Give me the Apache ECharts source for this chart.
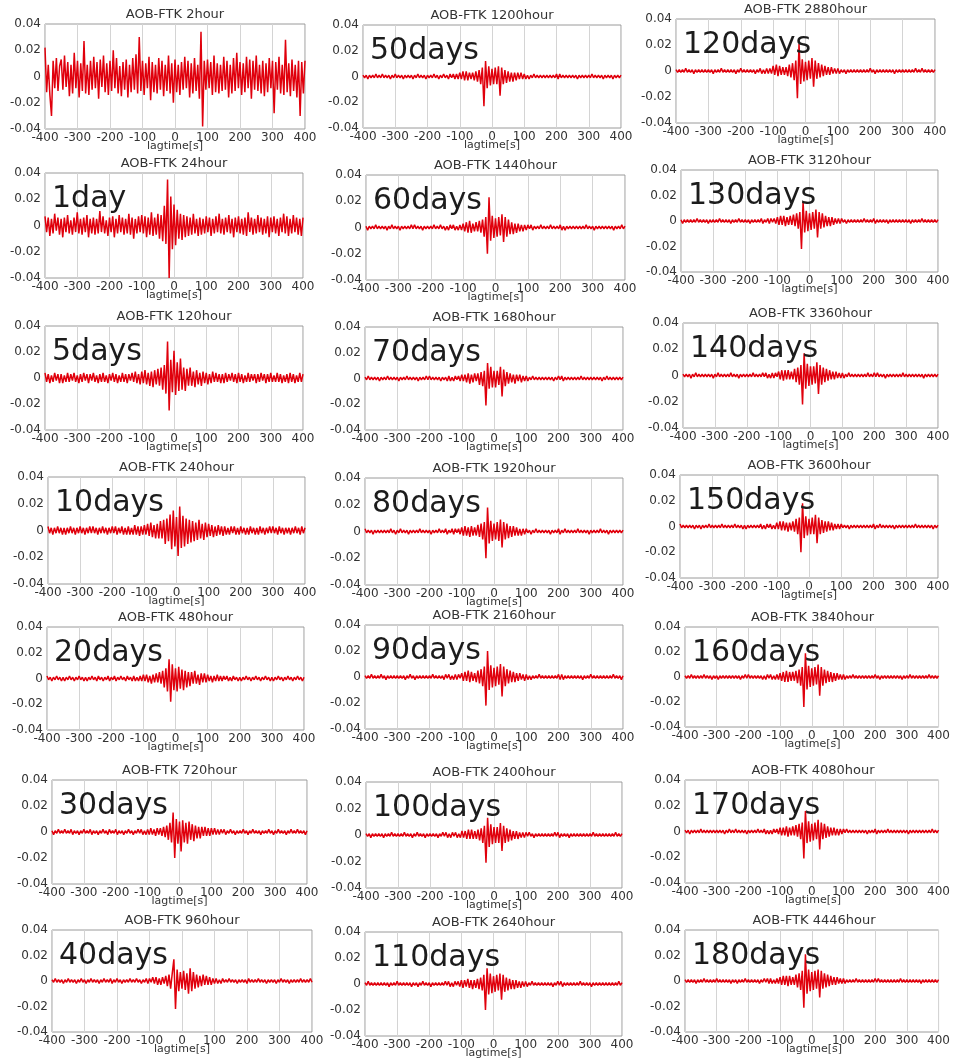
<!DOCTYPE html>
<html>
<head>
<meta charset="utf-8">
<title>AOB-FTK cross-correlation stacks</title>
<script src="https://cdn.jsdelivr.net/npm/echarts@6/dist/echarts.min.js"></script>
<style>
  html, body { margin: 0; padding: 0; background: #ffffff; }
  #chart { width: 953px; height: 1058px; }
</style>
</head>
<body>
<div id="chart"></div>
<script>
// Cross-correlation function AOB-FTK, stacked over increasing time windows.
// Traces are sampled every 5 s from -400 s to +400 s (161 samples);
// amplitudes are stored in thousandths.
const LAG_START = -400;
const LAG_STEP = 5;
const AMP_UNIT = 0.001;

const X_MIN = -400, X_MAX = 400, X_INTERVAL = 100;
const Y_MIN = -0.04, Y_MAX = 0.04, Y_INTERVAL = 0.02;

const STATION_PAIR = 'AOB-FTK';
const STACK_HOURS = [2, 24, 120, 240, 480, 720, 960,
                     1200, 1440, 1680, 1920, 2160, 2400, 2640,
                     2880, 3120, 3360, 3600, 3840, 4080, 4446];
const DAY_LABELS = ['', '1day', '5days', '10days', '20days', '30days', '40days',
                    '50days', '60days', '70days', '80days', '90days', '100days', '110days',
                    '120days', '130days', '140days', '150days', '160days', '170days', '180days'];

const amp_2h = [
  22,-12,9,-14,-30,12,-9,14,-11,8,
  13,-10,16,-8,11,-15,9,-13,18,-9,
  12,-16,10,-11,27,-13,9,-14,12,-10,
  15,-9,11,-17,13,-8,16,-12,10,-14,
  12,-11,20,-9,14,-13,8,-15,11,-10,
  13,-16,9,-12,14,-10,17,-13,30,-11,
  12,-14,10,-9,15,-18,11,-12,9,-13,
  14,-10,12,-15,9,-11,16,-13,10,-20,
  13,-12,9,-14,11,-10,15,-9,12,-16,
  10,-13,14,-11,9,-17,34,-38,12,-10,
  13,-9,11,-14,16,-12,10,-13,9,-11,
  15,-10,12,-16,9,-13,14,-11,18,-9,
  11,-14,10,-12,15,-9,13,-17,12,-10,
  16,-11,9,-13,12,-15,10,-12,14,-9,
  12,-28,11,-10,15,-13,9,-14,28,-12,
  10,-15,13,-11,9,-16,12,-30,11,-13,
  12];
const amp_24h = [
  7,-5,6,-8,5,-6,9,-4,6,-7,
  5,-9,6,-5,8,-6,4,-7,6,-5,
  10,-6,5,-7,6,-5,8,-9,5,-6,
  6,-7,5,-6,11,-5,7,-6,4,-8,
  6,-5,7,-9,5,-6,8,-5,6,-7,
  5,-6,9,-7,6,-10,5,-6,7,-5,
  8,-6,7,-9,6,-7,10,-8,6,-7,
  9,-10,8,-12,15,-14,35,-40,22,-18,
  16,-15,12,-10,9,-11,8,-9,7,-8,
  6,-7,9,-6,5,-8,6,-7,5,-6,
  7,-5,6,-8,5,-6,7,-5,9,-6,
  5,-7,6,-5,8,-6,5,-9,6,-5,
  7,-6,5,-7,6,-8,10,-5,6,-7,
  5,-6,8,-5,6,-7,5,-6,7,-9,
  6,-5,7,-6,5,-8,6,-5,9,-6,
  7,-8,5,-6,8,-5,6,-7,5,-8,
  6];
const amp_120h = [
  4,-3,3,-4,2,-3,4,-2,3,-4,
  3,-4,2,-3,4,-3,3,-2,4,-3,
  2,-4,3,-3,4,-2,3,-4,3,-2,
  4,-3,2,-4,3,-3,4,-3,2,-4,
  3,-2,4,-3,3,-4,2,-3,4,-3,
  3,-4,3,-2,4,-3,5,-4,3,-5,
  5,-4,6,-5,4,-6,5,-7,6,-5,
  7,-6,8,-9,10,-12,28,-25,14,-11,
  21,-13,12,-10,15,-9,8,-10,7,-6,
  8,-6,5,-7,6,-5,4,-6,5,-4,
  4,-5,3,-4,5,-3,4,-3,3,-4,
  3,-4,4,-3,3,-2,4,-3,3,-4,
  4,-3,3,-4,2,-3,4,-3,3,-2,
  3,-4,3,-3,4,-2,3,-4,3,-3,
  4,-3,2,-3,4,-3,3,-4,2,-3,
  3,-4,4,-3,3,-4,2,-3,4,-3,
  3];
const amp_240h = [
  3,-2,2,-3,2,-2,3,-2,2,-3,
  2,-3,2,-2,3,-2,2,-3,2,-2,
  3,-2,2,-3,2,-2,3,-2,3,-2,
  2,-3,2,-2,3,-2,2,-3,2,-2,
  3,-2,3,-3,2,-2,3,-3,2,-3,
  3,-3,2,-3,4,-3,3,-4,3,-3,
  4,-3,5,-4,6,-5,4,-6,5,-6,
  7,-6,8,-10,9,-8,12,-14,15,-12,
  10,-19,18,-13,11,-12,9,-10,8,-9,
  7,-8,6,-7,8,-6,5,-7,6,-5,
  5,-4,4,-5,3,-4,4,-3,3,-4,
  3,-3,2,-3,3,-2,3,-3,2,-3,
  3,-2,2,-3,2,-3,3,-2,2,-3,
  2,-3,3,-2,2,-3,2,-2,3,-2,
  3,-2,2,-3,3,-2,2,-3,2,-2,
  2,-3,2,-2,3,-2,2,-3,3,-2,
  2];
const amp_480h = [
  2,-1,1,-2,1,-1,2,-1,1,-2,
  1,-2,1,-1,2,-1,1,-2,1,-1,
  2,-1,1,-2,1,-2,1,-1,2,-1,
  1,-2,2,-1,1,-2,1,-1,2,-2,
  1,-1,2,-2,1,-1,2,-1,1,-2,
  2,-1,1,-2,2,-2,1,-2,2,-2,
  3,-2,3,-3,2,-4,3,-3,4,-3,
  5,-4,6,-7,8,-10,15,-18,11,-9,
  8,-10,9,-8,7,-9,6,-7,5,-6,
  5,-4,6,-4,3,-5,4,-3,4,-3,
  3,-2,2,-3,2,-2,3,-2,2,-2,
  2,-1,2,-2,1,-2,2,-1,1,-2,
  1,-2,1,-1,2,-1,1,-2,1,-1,
  2,-1,1,-2,1,-1,2,-1,1,-2,
  1,-2,1,-1,2,-1,1,-2,1,-1,
  2,-1,1,-2,1,-1,2,-1,1,-2,
  1];
const amp_720h = [
  1,-2,1,-1,2,-1,1,-1,2,-1,
  1,-1,2,-2,1,-1,1,-2,1,-1,
  2,-1,1,-1,2,-2,1,-1,1,-2,
  1,-1,2,-1,1,-2,2,-1,1,-1,
  2,-2,1,-1,1,-2,1,-1,2,-1,
  1,-2,1,-1,2,-1,2,-2,1,-2,
  2,-2,3,-2,2,-3,3,-2,3,-3,
  4,-4,5,-6,7,-8,15,-20,10,-9,
  8,-15,9,-8,7,-9,8,-6,6,-7,
  5,-5,4,-5,4,-3,4,-3,3,-3,
  3,-2,3,-2,2,-2,2,-1,2,-2,
  1,-1,2,-1,1,-2,1,-1,1,-1,
  2,-1,1,-2,1,-1,2,-1,1,-1,
  1,-2,1,-1,1,-1,2,-1,1,-2,
  1,-1,2,-1,1,-1,1,-2,1,-1,
  2,-1,1,-1,2,-1,1,-1,1,-2,
  1];
const amp_960h = [
  1,-1,2,-1,1,-1,1,-2,1,-1,
  2,-1,1,-1,1,-2,1,-1,2,-1,
  1,-2,1,-1,2,-1,1,-1,1,-2,
  1,-1,2,-1,1,-1,2,-2,1,-1,
  2,-1,1,-2,1,-1,1,-1,2,-1,
  1,-1,2,-1,1,-2,1,-1,2,-2,
  2,-1,3,-2,3,-3,2,-3,3,-2,
  4,-4,5,-6,6,17,-22,9,-8,7,
  -6,8,-7,6,-10,10,-8,7,-6,5,
  -5,4,-4,5,-3,4,-3,3,-3,2,
  -2,2,-2,1,-2,2,-1,1,-1,2,
  -1,1,-1,1,-2,1,-1,1,-1,1,
  -2,2,-1,1,-1,1,-1,2,-1,1,
  -1,1,-2,1,-1,1,-1,1,-2,1,
  -1,2,-1,1,-1,1,-2,1,-1,1,
  -1,1,-1,2,-1,1,-1,1,-1,2,
  -1];
const amp_1200h = [
  1,-1,1,-2,1,-1,1,-1,2,-1,
  1,-1,2,-1,1,-1,1,-2,1,-1,
  2,-1,1,-1,1,-2,1,-1,1,-1,
  1,-2,1,-1,2,-1,1,-1,1,-2,
  1,-1,1,-1,2,-1,1,-2,1,-1,
  2,-1,1,-2,2,-1,2,-2,2,-2,
  3,-2,4,-3,4,-3,3,-2,3,-3,
  4,-4,5,-6,7,-23,12,-9,8,-7,
  6,-6,7,-6,8,-15,7,-6,5,-5,
  4,-4,3,-4,3,-3,3,-2,3,-2,
  2,-2,1,-2,1,-1,2,-1,1,-1,
  1,-1,1,-1,1,-1,1,-1,1,-1,
  2,-2,2,-1,1,-1,1,-1,1,-1,
  1,-1,1,-2,1,-1,1,-1,1,-1,
  1,-1,2,-1,1,-1,1,-1,1,-2,
  1,-1,1,-1,1,-2,1,-1,1,-1,
  1];
const amp_1440h = [
  1,-2,1,-1,1,-1,2,-1,1,-1,
  1,-1,1,-2,1,-1,2,-1,1,-1,
  1,-2,1,-1,1,-1,1,-1,2,-1,
  2,-1,1,-1,1,-2,1,-1,1,-1,
  1,-1,2,-1,1,-1,2,-1,1,-2,
  1,-2,2,-1,2,-2,1,-2,2,-2,
  3,-3,4,-4,5,-4,3,-3,4,-3,
  5,-4,6,-7,8,-20,23,-10,9,-8,
  7,-7,8,-6,10,-11,8,-7,6,-5,
  4,-5,3,-4,3,-3,2,-3,2,-2,
  2,-1,2,-2,1,-1,1,-1,2,-1,
  1,-1,1,-1,2,-1,1,-1,1,-1,
  2,-2,1,-2,1,-1,1,-1,1,-1,
  1,-1,1,-1,1,-1,2,-1,1,-1,
  1,-2,1,-1,1,-1,1,-1,1,-1,
  1,-1,1,-2,1,-1,1,-1,2,-1,
  1];
const amp_1680h = [
  1,-1,2,-1,1,-1,1,-1,1,-2,
  1,-1,1,-1,2,-1,1,-1,1,-1,
  1,-2,1,-1,1,-1,2,-1,1,-1,
  1,-1,1,-2,1,-1,1,-1,2,-1,
  2,-1,1,-1,1,-1,1,-2,1,-1,
  1,-2,2,-2,1,-2,2,-1,2,-2,
  3,-2,3,-3,4,-4,3,-3,4,-2,
  4,-5,5,-6,6,-21,12,-8,9,-7,
  6,-7,6,-5,9,-14,7,-6,5,-4,
  4,-3,3,-4,3,-2,3,-3,2,-2,
  2,-2,1,-1,2,-1,1,-1,1,-1,
  1,-1,1,-1,1,-1,1,-2,1,-1,
  2,-1,2,-2,1,-1,1,-1,1,-1,
  1,-1,1,-1,2,-1,1,-1,1,-1,
  1,-1,1,-1,1,-1,1,-2,1,-1,
  2,-1,1,-1,1,-1,1,-1,1,-1,
  1];
const amp_1920h = [
  2,-1,1,-1,1,-2,1,-1,1,-1,
  1,-1,1,-1,1,-1,2,-1,1,-2,
  1,-1,2,-1,1,-1,1,-2,1,-1,
  1,-1,1,-1,2,-1,1,-1,1,-1,
  1,-2,1,-1,1,-1,2,-1,1,-1,
  2,-2,1,-1,2,-2,2,-1,2,-2,
  3,-3,4,-3,3,-4,4,-3,3,-3,
  5,-4,6,-6,7,-20,18,-9,8,-7,
  6,-6,7,-7,9,-12,7,-6,6,-5,
  4,-4,4,-3,3,-3,2,-3,2,-2,
  2,-1,1,-2,1,-1,2,-1,1,-1,
  1,-1,1,-1,1,-2,1,-1,1,-1,
  2,-2,1,-1,2,-1,1,-1,1,-1,
  1,-1,2,-1,1,-1,1,-1,1,-2,
  1,-1,1,-1,1,-1,2,-1,1,-1,
  1,-2,1,-1,1,-1,1,-1,1,-1,
  1];
const amp_2160h = [
  1,-1,1,-1,2,-1,1,-1,1,-1,
  2,-1,1,-2,1,-1,1,-1,1,-1,
  1,-1,1,-1,1,-2,1,-1,2,-1,
  1,-2,1,-1,1,-1,1,-1,1,-1,
  1,-1,2,-1,1,-1,1,-1,1,-2,
  2,-1,2,-2,1,-2,2,-2,2,-1,
  3,-3,4,-3,5,-4,4,-3,3,-4,
  5,-5,6,-7,8,-22,20,-10,9,-8,
  7,-7,8,-6,10,-15,8,-7,6,-5,
  5,-4,4,-4,3,-3,3,-2,2,-3,
  2,-2,1,-2,1,-1,1,-1,2,-1,
  1,-1,1,-1,1,-1,1,-1,1,-1,
  2,-2,2,-2,1,-1,1,-1,1,-1,
  1,-1,1,-1,1,-2,1,-1,1,-1,
  2,-1,1,-1,1,-1,1,-1,1,-1,
  1,-1,1,-1,2,-1,1,-1,1,-2,
  1];
const amp_2400h = [
  1,-1,1,-2,1,-1,1,-1,1,-1,
  1,-2,1,-1,1,-1,2,-1,1,-1,
  1,-1,1,-1,2,-1,1,-1,1,-2,
  1,-1,2,-1,1,-1,1,-2,1,-1,
  1,-1,1,-1,1,-2,1,-1,2,-1,
  2,-2,1,-2,2,-1,2,-2,1,-2,
  3,-2,3,-3,4,-3,4,-3,3,-3,
  4,-4,5,-6,7,-21,13,-9,8,-7,
  6,-6,6,-6,9,-12,7,-6,5,-5,
  4,-4,3,-3,3,-3,2,-2,2,-2,
  2,-1,2,-1,1,-2,1,-1,1,-1,
  1,-1,1,-1,1,-1,1,-1,2,-1,
  2,-2,1,-1,1,-1,1,-2,1,-1,
  1,-1,1,-1,1,-1,1,-1,1,-1,
  1,-1,2,-1,1,-1,1,-1,1,-1,
  1,-1,1,-1,1,-1,2,-1,1,-1,
  1];
const amp_2640h = [
  1,-1,2,-1,1,-1,1,-1,1,-1,
  1,-1,1,-1,1,-2,1,-1,1,-1,
  2,-1,1,-1,1,-1,1,-1,1,-2,
  1,-1,1,-2,1,-1,2,-1,1,-1,
  1,-2,1,-1,1,-1,1,-1,1,-1,
  2,-1,2,-2,1,-2,2,-1,2,-2,
  3,-3,3,-2,4,-3,3,-4,3,-3,
  4,-4,5,-5,7,-20,12,-8,8,-7,
  6,-6,7,-5,8,-12,7,-6,5,-5,
  4,-4,3,-4,3,-3,2,-3,2,-2,
  2,-2,1,-1,2,-1,1,-1,1,-1,
  1,-1,1,-1,1,-1,1,-2,1,-1,
  2,-1,2,-2,1,-1,1,-1,1,-1,
  1,-1,1,-1,2,-1,1,-1,1,-1,
  1,-2,1,-1,1,-1,1,-1,1,-1,
  1,-1,1,-1,1,-1,1,-1,2,-1,
  1];
const amp_2880h = [
  1,-1,1,-1,1,-1,2,-1,1,-1,
  1,-2,1,-1,1,-1,1,-1,1,-1,
  1,-1,1,-2,1,-1,1,-1,2,-1,
  1,-1,1,-1,1,-1,1,-2,1,-1,
  2,-1,1,-1,1,-1,1,-1,1,-2,
  1,-1,2,-2,1,-2,2,-2,2,-2,
  4,-3,5,-4,4,-3,3,-3,3,-4,
  5,-5,6,-7,8,-21,21,-10,9,-8,
  7,-7,8,-6,10,-12,8,-6,6,-5,
  5,-4,4,-3,3,-3,3,-2,2,-2,
  2,-2,1,-1,1,-2,1,-1,1,-1,
  1,-1,1,-1,1,-1,1,-1,1,-1,
  2,-1,1,-2,1,-1,1,-1,1,-1,
  1,-1,1,-1,1,-2,1,-1,1,-1,
  1,-1,1,-1,1,-1,1,-1,2,-1,
  1,-1,2,-1,1,-1,1,-1,1,-1,
  1];
const amp_3120h = [
  1,-2,1,-1,1,-1,1,-1,1,-1,
  2,-1,1,-1,1,-1,1,-2,1,-1,
  1,-1,1,-1,2,-1,1,-1,1,-1,
  1,-2,1,-1,1,-1,2,-1,1,-1,
  1,-1,1,-2,1,-1,1,-1,1,-1,
  2,-2,1,-1,2,-2,2,-1,2,-2,
  3,-3,4,-3,4,-4,3,-3,4,-3,
  5,-4,6,-6,7,-22,15,-9,8,-8,
  6,-7,7,-6,9,-13,7,-6,6,-5,
  4,-4,3,-4,3,-3,2,-2,2,-2,
  2,-1,1,-2,1,-1,1,-1,1,-1,
  1,-1,1,-1,2,-1,1,-1,1,-1,
  2,-2,1,-1,1,-1,1,-1,1,-2,
  1,-1,1,-1,1,-1,1,-1,1,-1,
  1,-1,1,-2,1,-1,1,-1,1,-1,
  2,-1,1,-1,1,-1,1,-1,1,-1,
  1];
const amp_3360h = [
  1,-1,1,-1,1,-2,1,-1,2,-1,
  1,-1,1,-1,1,-1,1,-1,1,-2,
  1,-1,2,-1,1,-1,1,-1,1,-1,
  2,-1,1,-1,1,-2,1,-1,1,-1,
  1,-1,1,-1,2,-1,1,-1,1,-1,
  2,-1,2,-2,1,-2,2,-2,2,-1,
  3,-3,4,-4,4,-3,4,-3,3,-3,
  5,-5,6,-7,8,-22,17,-10,9,-8,
  7,-7,7,-6,10,-14,8,-7,6,-5,
  5,-4,4,-3,3,-3,3,-2,2,-2,
  2,-2,1,-1,2,-1,1,-1,1,-1,
  1,-1,1,-1,1,-1,2,-1,1,-1,
  2,-1,2,-1,1,-1,1,-2,1,-1,
  1,-1,1,-1,1,-1,1,-1,2,-1,
  1,-1,1,-1,1,-1,1,-1,1,-1,
  1,-2,1,-1,1,-1,1,-1,1,-1,
  1];
const amp_3600h = [
  2,-1,1,-1,1,-1,1,-1,1,-2,
  1,-1,1,-2,1,-1,1,-1,2,-1,
  1,-1,1,-1,1,-1,2,-1,1,-1,
  1,-1,1,-1,2,-1,1,-1,1,-2,
  1,-2,1,-1,1,-1,1,-1,1,-1,
  2,-2,1,-2,2,-1,2,-2,1,-2,
  3,-2,4,-3,4,-3,3,-4,3,-3,
  4,-4,6,-6,7,-20,18,-9,8,-7,
  6,-6,7,-6,9,-13,7,-6,5,-5,
  4,-4,4,-3,3,-3,2,-2,2,-2,
  2,-1,1,-1,1,-2,1,-1,1,-1,
  1,-1,1,-1,1,-1,1,-1,1,-1,
  2,-2,1,-1,2,-1,1,-1,1,-1,
  1,-1,1,-2,1,-1,1,-1,1,-1,
  1,-1,1,-1,1,-1,2,-1,1,-1,
  1,-1,1,-1,1,-1,1,-2,1,-1,
  1];
const amp_3840h = [
  1,-1,1,-1,2,-1,1,-1,1,-1,
  1,-1,2,-1,1,-1,1,-2,1,-1,
  1,-2,1,-1,1,-1,1,-1,1,-1,
  1,-1,1,-1,1,-2,1,-1,2,-1,
  2,-1,1,-1,1,-1,1,-1,1,-2,
  1,-2,2,-1,2,-2,1,-2,2,-2,
  3,-3,4,-4,5,-4,4,-3,4,-3,
  5,-5,6,-7,8,-24,19,-10,9,-8,
  7,-7,8,-6,10,-15,8,-7,6,-5,
  5,-4,4,-4,3,-3,3,-2,2,-2,
  2,-2,1,-1,1,-1,2,-1,1,-1,
  1,-1,1,-1,1,-1,1,-1,1,-1,
  2,-1,1,-2,1,-1,1,-1,1,-1,
  1,-1,1,-1,1,-1,1,-2,1,-1,
  1,-1,2,-1,1,-1,1,-1,1,-1,
  1,-1,1,-1,2,-1,1,-1,1,-1,
  1];
const amp_4080h = [
  1,-1,1,-2,1,-1,1,-1,1,-1,
  2,-1,1,-1,1,-1,1,-1,1,-1,
  1,-1,1,-1,1,-2,1,-1,2,-1,
  1,-1,2,-1,1,-1,1,-1,1,-2,
  1,-1,1,-1,1,-1,2,-1,1,-1,
  2,-2,1,-2,1,-2,2,-1,2,-2,
  3,-3,3,-3,4,-4,3,-3,4,-3,
  5,-4,6,-6,7,-21,16,-9,8,-8,
  6,-7,7,-6,9,-14,7,-6,6,-5,
  4,-4,3,-3,3,-3,2,-3,2,-2,
  2,-1,2,-1,1,-1,1,-1,1,-1,
  1,-1,1,-1,1,-2,1,-1,1,-1,
  2,-2,1,-1,1,-1,1,-1,2,-1,
  1,-1,1,-1,1,-1,1,-1,1,-1,
  1,-2,1,-1,1,-1,1,-1,1,-1,
  1,-1,1,-1,1,-1,2,-1,1,-1,
  1];
const amp_4446h = [
  1,-1,1,-1,1,-1,1,-2,1,-1,
  1,-1,2,-1,1,-1,1,-1,1,-1,
  2,-1,1,-1,1,-1,1,-1,1,-2,
  1,-1,1,-2,1,-1,1,-1,2,-1,
  1,-1,1,-1,1,-1,1,-2,1,-1,
  2,-1,2,-2,2,-2,1,-2,2,-2,
  3,-3,4,-3,4,-4,4,-3,3,-3,
  5,-5,6,-7,8,-21,21,-10,9,-8,
  7,-7,8,-6,9,-13,8,-6,6,-5,
  5,-4,4,-3,3,-3,3,-2,2,-2,
  2,-2,1,-1,1,-1,1,-1,2,-1,
  1,-1,1,-1,1,-1,1,-1,1,-1,
  2,-1,2,-1,1,-1,1,-1,1,-1,
  1,-1,1,-1,1,-1,2,-1,1,-1,
  1,-1,1,-1,1,-1,1,-1,1,-2,
  1,-1,1,-1,1,-1,1,-1,1,-1,
  1];

const TRACES = [amp_2h, amp_24h, amp_120h, amp_240h, amp_480h, amp_720h, amp_960h,
                amp_1200h, amp_1440h, amp_1680h, amp_1920h, amp_2160h, amp_2400h, amp_2640h,
                amp_2880h, amp_3120h, amp_3360h, amp_3600h, amp_3840h, amp_4080h, amp_4446h];

// Plot boxes in pixels: [left, right, top, bottom], three columns of seven panels.
const BOXES = [
  [45, 305, 24, 129], [45, 303, 173, 278], [45, 303, 326, 430], [48, 305, 477, 584],
  [47, 304, 627, 730], [52, 307, 780, 884], [52, 312, 930, 1032],
  [363, 621, 25, 128], [366, 625, 175, 280], [365, 623, 327, 430], [365, 623, 478, 585],
  [365, 623, 625, 729], [366, 622, 782, 888], [365, 622, 932, 1036],
  [676, 935, 19, 123], [681, 938, 170, 272], [683, 938, 323, 428], [680, 938, 475, 578],
  [685, 940, 627, 727], [685, 941, 780, 883], [685, 943, 930, 1032]
];

const FONT = '"DejaVu Sans", "Noto Sans", sans-serif';
const TEXT_COLOR = '#333333';
const TRACE_COLOR = '#e0000c';

const grids = [], xAxes = [], yAxes = [], series = [], graphics = [];

BOXES.forEach(function (b, i) {
  const left = b[0], right = b[1], top = b[2], bottom = b[3];
  const cx = (left + right) / 2;

  grids.push({
    left: left, top: top, width: right - left, height: bottom - top,
    show: true, borderColor: '#9a9a9a', borderWidth: 1,
    backgroundColor: 'transparent', containLabel: false
  });

  xAxes.push({
    type: 'value', gridIndex: i, position: 'bottom',
    min: X_MIN, max: X_MAX, interval: X_INTERVAL,
    axisLine: { show: false, onZero: false },
    axisTick: { show: false },
    splitLine: { show: true, lineStyle: { color: '#d4d4d4', width: 1 } },
    axisLabel: { fontSize: 12, fontFamily: FONT, color: TEXT_COLOR, margin: 3 }
  });

  yAxes.push({
    type: 'value', gridIndex: i, position: 'left',
    min: Y_MIN, max: Y_MAX, interval: Y_INTERVAL,
    axisLine: { show: false, onZero: false },
    axisTick: { show: false },
    splitLine: { show: false },
    axisLabel: { fontSize: 12, fontFamily: FONT, color: TEXT_COLOR, margin: 4 }
  });

  series.push({
    type: 'line', xAxisIndex: i, yAxisIndex: i,
    data: TRACES[i].map(function (v, k) { return [LAG_START + k * LAG_STEP, v * AMP_UNIT]; }),
    showSymbol: false, symbol: 'none', silent: true,
    lineStyle: { color: TRACE_COLOR, width: 1.5 },
    z: 3
  });

  graphics.push({
    type: 'text', x: cx, y: top - 9, silent: true,
    style: {
      text: STATION_PAIR + ' ' + STACK_HOURS[i] + 'hour',
      fontSize: 13, fontFamily: FONT, fill: TEXT_COLOR,
      align: 'center', verticalAlign: 'middle'
    }
  });

  graphics.push({
    type: 'text', x: cx, y: bottom + 17, silent: true,
    style: {
      text: 'lagtime[s]', fontSize: 11, fontFamily: FONT, fill: TEXT_COLOR,
      align: 'center', verticalAlign: 'middle'
    }
  });

  if (DAY_LABELS[i]) {
    graphics.push({
      type: 'text', x: left + 7, y: top + 26, silent: true, z: 10,
      style: {
        text: DAY_LABELS[i], fontSize: 30, fontFamily: FONT, fill: '#1c1c1c',
        align: 'left', verticalAlign: 'middle'
      }
    });
  }
});

const chart = echarts.init(document.getElementById('chart'), null, { renderer: 'canvas' });
chart.setOption({
  backgroundColor: '#ffffff',
  animation: false,
  grid: grids,
  xAxis: xAxes,
  yAxis: yAxes,
  series: series,
  graphic: graphics
});
</script>
</body>
</html>
